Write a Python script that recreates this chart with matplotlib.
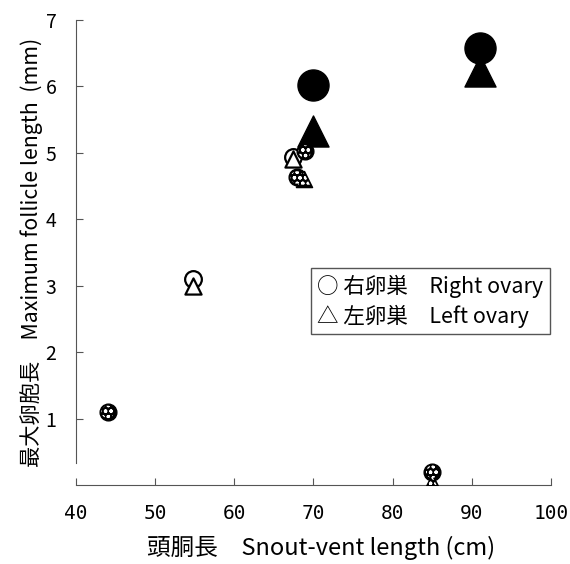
import matplotlib
matplotlib.use("Agg")
import matplotlib.pyplot as plt

plt.rcParams['font.family'] = ['Noto Sans CJK JP', 'DejaVu Sans']
plt.rcParams['hatch.linewidth'] = 0.9

# Snout-vent length (cm) and maximum follicle length (mm) per ovary
right_x = [44.0, 54.8, 67.4, 68.9, 67.9, 85.0, 70.0, 91.0]
right_y = [1.10, 3.10, 4.94, 5.02, 4.63, 0.20, 6.02, 6.58]
left_x = [54.8, 67.4, 68.8, 85.0, 70.0, 91.0]
left_y = [3.00, 4.90, 4.61, 0.04, 5.33, 6.23]
# 0 = open, 1 = stippled, 2 = solid
right_kind = [1, 0, 0, 1, 1, 1, 2, 2]
left_kind = [0, 0, 1, 1, 2, 2]

fig = plt.figure(figsize=(5.7, 5.64), dpi=100)
ax = fig.add_axes([0.1333, 0.1401, 0.8333, 0.8245])


def draw(xs, ys, kinds, marker, small, big):
    for x, y, k in zip(xs, ys, kinds):
        if k == 2:
            ax.scatter(x, y, s=big, marker=marker, c='black', zorder=3)
        elif k == 1:
            ax.scatter(x, y, s=small, marker=marker, c='black', zorder=4)
            # white speckle pattern inside the dark marker
            ax.scatter(x, y, s=small * 0.55, marker=marker, facecolor='none',
                       edgecolor='white', hatch='ooo', linewidth=0, zorder=5)
        else:
            ax.scatter(x, y, s=small, marker=marker, facecolor='white',
                       edgecolor='black', linewidth=1.6, zorder=4)


draw(right_x, right_y, right_kind, 'o', 145, 500)
draw(left_x, left_y, left_kind, '^', 135, 500)

ax.set_xlim(40, 100)
ax.set_ylim(0, 7)
ax.set_xticks(range(40, 101, 10))
ax.set_yticks(range(1, 8))
ax.spines['top'].set_visible(False)
ax.spines['right'].set_visible(False)
ax.spines['left'].set_bounds(0.33, 7)
ax.spines['left'].set_color('#555555')
ax.spines['bottom'].set_color('#555555')
ax.tick_params(direction='in', length=5, color='#555555')
ax.tick_params(axis='y', labelsize=14, pad=14)
ax.tick_params(axis='x', labelsize=14, pad=14)
for lbl in ax.get_xticklabels():
    lbl.set_fontfamily('DejaVu Sans Mono')

ax.set_xlabel('頭胴長　Snout-vent length (cm)', fontsize=17)
ax.xaxis.set_label_coords(0.515, -0.11)
ax.set_ylabel('最大卵胞長　Maximum follicle length  (mm)', fontsize=15.3)
ax.yaxis.set_label_coords(-0.07, 0.50)

ax.text(0.508, 0.395, '○ 右卵巣　Right ovary\n△ 左卵巣　Left ovary',
        transform=ax.transAxes, fontsize=15.5, linespacing=1.35, va='center',
        bbox=dict(boxstyle='square,pad=0.3', facecolor='white',
                  edgecolor='#555555', linewidth=1))

fig.savefig('out.png', dpi=100)
